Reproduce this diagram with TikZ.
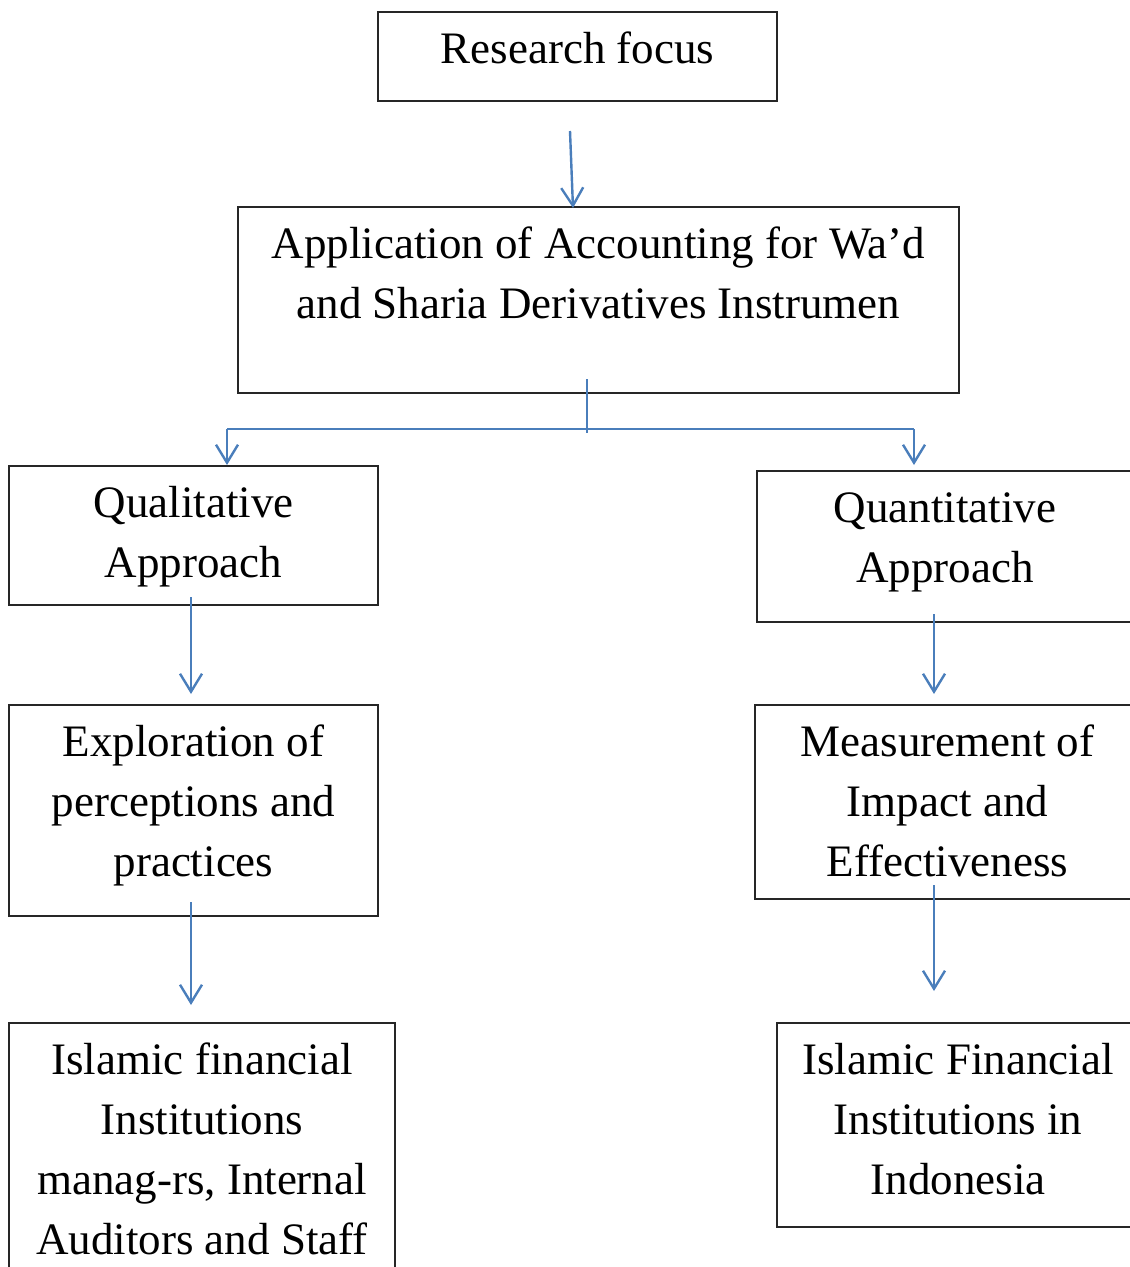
\documentclass[tikz,border=0pt]{standalone}
\usepackage{fontspec}
\setmainfont{Liberation Serif}
\usetikzlibrary{arrows.meta}
\definecolor{arrowblue}{HTML}{4A7EBB}
\definecolor{boxline}{HTML}{262626}
\newcommand{\boxtext}[3]{\parbox[t][#2pt][t]{#1pt}{\centering\fontsize{45}{60}\selectfont\rule{0pt}{51pt}#3\par}}
\tikzset{
  box/.style={draw=boxline, line width=1.3pt, fill=white, inner sep=0pt, outer sep=0pt, anchor=north west},
  conn/.style={draw=arrowblue, line width=2.4pt, -{Straight Barb[length=18pt,width=22pt,line width=2.4pt]}},
  plainconn/.style={draw=arrowblue, line width=2.4pt}
}
\begin{document}
\begin{tikzpicture}[x=1pt,y=-1pt]
\useasboundingbox (0,0) rectangle (1130,1267);
\node[box] (rf) at (378,12) {\boxtext{399}{89}{Research focus}};
\node[box] (app) at (238,207) {\boxtext{721}{186}{Application of Accounting for Wa’d\\and Sharia Derivatives Instrumen}};
\node[box] (qual) at (9,466) {\boxtext{369}{139}{Qualitative\\Approach}};
\node[box] (quant) at (757,471) {\boxtext{376}{151}{Quantitative\\Approach}};
\node[box] (expl) at (9,705) {\boxtext{369}{211}{Exploration of\\perceptions and\\practices}};
\node[box] (meas) at (755,705) {\boxtext{385}{194}{Measurement of\\Impact and\\Effectiveness}};
\node[box] (ifil) at (9,1023) {\boxtext{386}{262}{Islamic financial\\Institutions\\manag-rs, Internal\\Auditors and Staff}};
\node[box] (ifir) at (777,1023) {\boxtext{362}{204}{Islamic Financial\\Institutions in\\Indonesia}};
% connector coordinates
\coordinate (a1s) at (570,131);
\coordinate (a1e) at (573,208);
\coordinate (bs) at (587,379);
\coordinate (be) at (587,433);
\coordinate (bl) at (227,429);
\coordinate (br) at (914,429);
\coordinate (ble) at (227,465);
\coordinate (bre) at (914,465);
\coordinate (a3s) at (191,597);
\coordinate (a3e) at (191,694);
\coordinate (a4s) at (934,614);
\coordinate (a4e) at (934,694);
\coordinate (a5s) at (191,902);
\coordinate (a5e) at (191,1005);
\coordinate (a6s) at (934,885);
\coordinate (a6e) at (934,991);
\draw[conn] (a1s) -- (a1e);
\draw[plainconn] (bs) -- (be);
\draw[plainconn] (bl) -- (br);
\draw[conn] (bl) -- (ble);
\draw[conn] (br) -- (bre);
\draw[conn] (a3s) -- (a3e);
\draw[conn] (a4s) -- (a4e);
\draw[conn] (a5s) -- (a5e);
\draw[conn] (a6s) -- (a6e);
\end{tikzpicture}
\end{document}
